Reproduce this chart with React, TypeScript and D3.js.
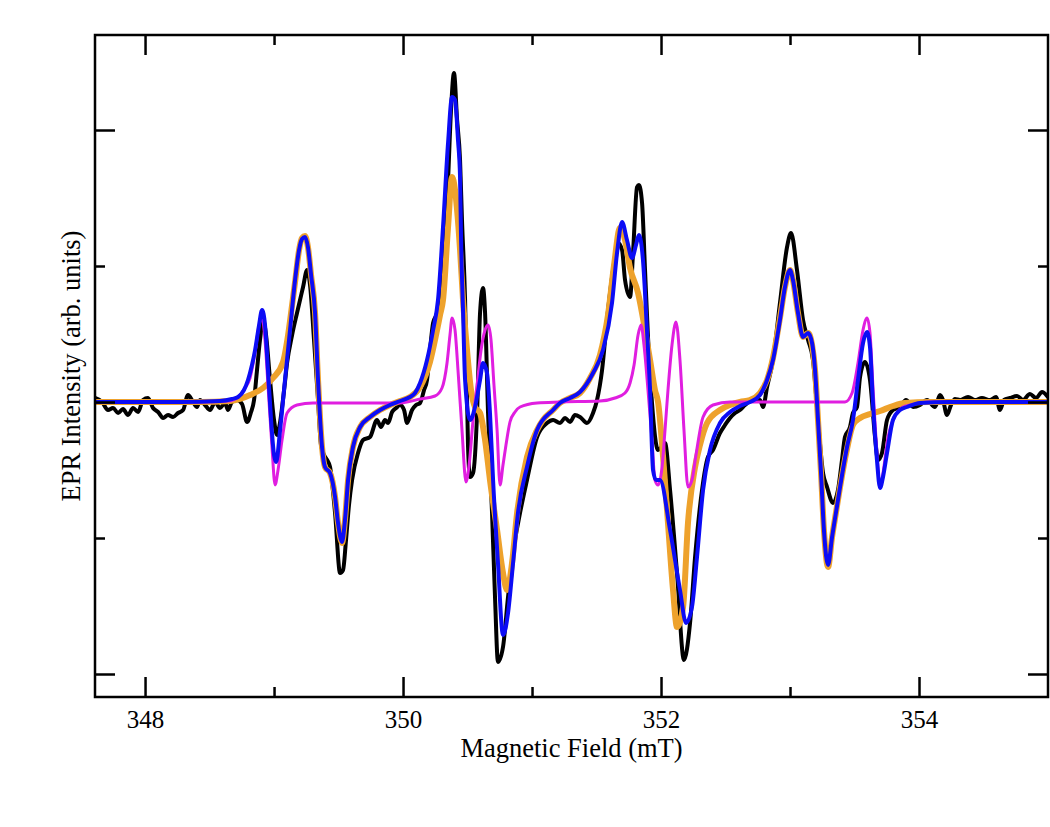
import React, { useEffect, useRef } from 'react';
import * as d3 from 'd3';

// magnetic field (mT) and intensity (arb. units)

// experimental trace (black)
const experimentField = [
  347.612, 347.667, 347.713, 347.752, 347.791, 347.829, 347.868, 347.907, 347.946, 347.984,
  348.023, 348.062, 348.101, 348.140, 348.178, 348.217, 348.256, 348.295, 348.333, 348.372,
  348.403, 348.426, 348.465, 348.504, 348.543, 348.581, 348.620, 348.643, 348.674, 348.713,
  348.752, 348.791, 348.822, 348.845, 348.868, 348.891, 348.915, 348.938, 348.969, 349.000,
  349.023, 349.047, 349.078, 349.101, 349.140, 349.178, 349.225, 349.256, 349.279, 349.310,
  349.341, 349.364, 349.388, 349.411, 349.434, 349.473, 349.512, 349.535, 349.558, 349.581,
  349.605, 349.651, 349.690, 349.744, 349.798, 349.829, 349.860, 349.884, 349.915, 349.946,
  349.977, 350.008, 350.031, 350.070, 350.101, 350.132, 350.163, 350.186, 350.209, 350.233,
  350.264, 350.295, 350.326, 350.349, 350.372, 350.395, 350.419, 350.442, 350.457, 350.481,
  350.504, 350.519, 350.543, 350.574, 350.597, 350.620, 350.636, 350.659, 350.690, 350.713,
  350.736, 350.775, 350.814, 350.853, 350.907, 350.961, 351.039, 351.116, 351.163, 351.217,
  351.256, 351.295, 351.333, 351.372, 351.426, 351.473, 351.504, 351.543, 351.581, 351.628,
  351.667, 351.698, 351.721, 351.760, 351.783, 351.814, 351.829, 351.853, 351.876, 351.899,
  351.930, 351.977, 352.031, 352.070, 352.124, 352.178, 352.225, 352.264, 352.318, 352.364,
  352.403, 352.457, 352.496, 352.535, 352.574, 352.612, 352.651, 352.705, 352.767, 352.791,
  352.822, 352.868, 352.922, 352.977, 353.008, 353.054, 353.101, 353.140, 353.178, 353.217,
  353.256, 353.287, 353.333, 353.372, 353.403, 353.426, 353.465, 353.488, 353.519, 353.543,
  353.581, 353.620, 353.659, 353.682, 353.713, 353.752, 353.798, 353.853, 353.899, 353.954,
  354.008, 354.062, 354.124, 354.163, 354.186, 354.217, 354.248, 354.279, 354.318, 354.380,
  354.434, 354.488, 354.550, 354.597, 354.628, 354.659, 354.705, 354.760, 354.806, 354.860,
  354.907, 354.954, 355.000,
];
const experimentSignal = [
  4, 0, -8, -6, -11, -7, -13, -6, -10, 2,
  4, -6, -10, -16, -13, -15, -11, -8, 7, 0,
  -5, 2, -3, -8, 0, -6, -1, -8, 0, 2,
  -2, -20, -10, 2, 32, 62, 82, 67, 22, -18,
  -33, -20, 12, 39, 67, 89, 115, 132, 117, 62,
  2, -43, -53, -58, -65, -111, -171, -168, -138, -103,
  -78, -51, -38, -35, -18, -25, -18, -21, -10, -6,
  -3, -8, -21, -8, -3, -1, 12, 22, 52, 79,
  89, 112, 162, 222, 292, 329, 282, 242, 182, 102,
  -45, -75, -71, -11, 89, 114, 89, -11, -111, -195,
  -260, -245, -195, -151, -111, -78, -35, -21, -18, -21,
  -16, -20, -13, -15, -21, -11, 2, 32, 82, 132,
  159, 152, 122, 105, 149, 215, 217, 199, 132, 65,
  -1, -48, -41, -88, -171, -258, -221, -155, -88, -55,
  -48, -31, -23, -16, -11, -8, -3, 2, 2, -5,
  15, 42, 99, 155, 169, 132, 82, 62, 42, -18,
  -71, -85, -101, -88, -58, -35, -25, -11, -5, 25,
  40, 22, -35, -58, -51, -18, -8, -5, 2, -5,
  -3, 2, -5, 7, 2, -13, -3, 3, 2, 5,
  2, 4, 2, 5, -8, 2, 4, 6, 2, 8,
  4, 10, 5,
];

// total simulation (blue)
const simulationField = [
  347.612, 348.271, 348.581, 348.674, 348.721, 348.767, 348.798, 348.829, 348.853, 348.884,
  348.907, 348.930, 348.953, 348.977, 349.000, 349.016, 349.047, 349.085, 349.124, 349.163,
  349.194, 349.217, 349.240, 349.264, 349.287, 349.318, 349.341, 349.372, 349.395, 349.434,
  349.473, 349.496, 349.527, 349.550, 349.574, 349.612, 349.667, 349.744, 349.822, 349.899,
  349.977, 350.054, 350.093, 350.132, 350.186, 350.233, 350.271, 350.310, 350.349, 350.380,
  350.403, 350.426, 350.442, 350.450, 350.465, 350.481, 350.519, 350.558, 350.597, 350.620,
  350.651, 350.674, 350.698, 350.736, 350.775, 350.814, 350.853, 350.891, 350.961, 351.039,
  351.163, 351.217, 351.295, 351.372, 351.473, 351.550, 351.620, 351.659, 351.698, 351.736,
  351.775, 351.806, 351.829, 351.860, 351.891, 351.915, 351.938, 351.961, 351.992, 352.070,
  352.147, 352.194, 352.240, 352.279, 352.326, 352.380, 352.457, 352.535, 352.612, 352.690,
  352.767, 352.822, 352.868, 352.922, 352.961, 353.000, 353.023, 353.062, 353.101, 353.140,
  353.171, 353.194, 353.217, 353.240, 353.264, 353.295, 353.326, 353.357, 353.388, 353.442,
  353.488, 353.527, 353.566, 353.597, 353.620, 353.643, 353.674, 353.698, 353.721, 353.752,
  353.798, 353.853, 353.907, 354.008, 354.240, 355.000,
];
const simulationSignal = [
  0, 0, 1, 3, 5, 12, 22, 37, 52, 77,
  92, 77, 32, -18, -53, -60, -28, 22, 72, 122,
  152, 163, 165, 154, 127, 89, 22, -45, -65, -71,
  -95, -121, -140, -118, -78, -45, -25, -15, -8, -3,
  1, 5, 9, 19, 42, 72, 102, 175, 259, 305,
  302, 262, 225, 162, 92, 22, -18, -5, 22, 39,
  29, -11, -78, -161, -233, -211, -161, -111, -65, -28,
  -8, -1, 4, 10, 29, 52, 99, 149, 180, 162,
  144, 157, 167, 142, 72, 12, -68, -78, -78, -128,
  -188, -221, -205, -155, -88, -48, -21, -10, -4, 0,
  7, 22, 42, 82, 115, 132, 122, 89, 65, 69,
  59, 32, -18, -70, -130, -163, -135, -110, -85, -45,
  -18, 22, 59, 70, 55, -1, -58, -86, -75, -51,
  -18, -8, -5, -1, 0, 0,
];

// broad component (orange)
const broadField = [
  347.612, 348.426, 348.659, 348.736, 348.814, 348.915, 348.992, 349.070, 349.109, 349.140,
  349.163, 349.194, 349.217, 349.240, 349.264, 349.287, 349.318, 349.341, 349.372, 349.395,
  349.434, 349.473, 349.496, 349.527, 349.550, 349.574, 349.612, 349.667, 349.744, 349.822,
  349.899, 349.977, 350.054, 350.132, 350.209, 350.256, 350.287, 350.310, 350.349, 350.380,
  350.403, 350.419, 350.442, 350.465, 350.496, 350.527, 350.558, 350.597, 350.636, 350.674,
  350.729, 350.775, 350.806, 350.845, 350.884, 350.961, 351.039, 351.085, 351.163, 351.217,
  351.295, 351.372, 351.450, 351.527, 351.589, 351.636, 351.682, 351.721, 351.760, 351.822,
  351.876, 351.915, 351.953, 351.977, 352.016, 352.054, 352.093, 352.124, 352.171, 352.209,
  352.264, 352.302, 352.357, 352.457, 352.535, 352.612, 352.690, 352.767, 352.822, 352.868,
  352.922, 352.961, 353.000, 353.023, 353.062, 353.101, 353.140, 353.171, 353.194, 353.217,
  353.240, 353.264, 353.295, 353.326, 353.357, 353.388, 353.442, 353.488, 353.543, 353.620,
  353.698, 353.798, 353.891, 354.085, 355.000,
];
const broadSignal = [
  0, 0, 1, 3, 7, 14, 24, 40, 67, 97,
  120, 152, 164, 166, 154, 127, 89, 22, -45, -65,
  -71, -95, -121, -141, -118, -78, -45, -25, -15, -8,
  -3, 1, 5, 15, 40, 67, 87, 102, 175, 225,
  212, 192, 152, 102, 52, 12, -5, -11, -38, -78,
  -128, -171, -188, -161, -111, -55, -28, -18, -8, -1,
  4, 9, 24, 47, 87, 137, 174, 162, 134, 109,
  72, 42, 12, 0, -55, -121, -188, -225, -205, -121,
  -65, -43, -21, -8, -3, 0, 2, 9, 22, 44,
  84, 115, 132, 122, 89, 65, 69, 57, 32, -18,
  -70, -130, -165, -135, -110, -85, -47, -23, -16, -12,
  -9, -4, -1, 0, 0,
];

// narrow component (magenta)
const narrowField = [
  347.612, 348.426, 348.643, 348.721, 348.775, 348.814, 348.853, 348.884, 348.907, 348.930,
  348.953, 348.984, 349.008, 349.031, 349.062, 349.101, 349.178, 349.302, 349.977, 350.132,
  350.248, 350.302, 350.341, 350.364, 350.380, 350.403, 350.426, 350.457, 350.488, 350.512,
  350.543, 350.574, 350.605, 350.636, 350.659, 350.682, 350.705, 350.729, 350.752, 350.775,
  350.798, 350.829, 350.868, 350.907, 351.039, 351.217, 351.527, 351.643, 351.721, 351.760,
  351.791, 351.822, 351.845, 351.868, 351.899, 351.930, 351.953, 351.977, 352.008, 352.031,
  352.054, 352.085, 352.116, 352.147, 352.178, 352.209, 352.240, 352.271, 352.326, 352.403,
  352.535, 353.287, 353.426, 353.481, 353.527, 353.566, 353.597, 353.620, 353.643, 353.674,
  353.698, 353.721, 353.760, 353.798, 353.876, 353.930, 354.085, 355.000,
];
const narrowSignal = [
  0, 0, 1, 5, 14, 24, 50, 77, 85, 62,
  17, -45, -83, -68, -38, -11, -3, -1, -1, 3,
  6, 14, 39, 67, 84, 72, 32, -28, -80, -63,
  -18, 17, 52, 72, 77, 62, 17, -28, -83, -63,
  -43, -20, -10, -5, -1, 0, 1, 4, 9, 19,
  37, 67, 77, 57, 12, -38, -78, -83, -65, -28,
  12, 57, 80, 42, -28, -85, -78, -53, -15, -3,
  0, 0, 0, 9, 39, 72, 84, 69, 15, -51,
  -85, -71, -35, -18, -5, -3, 0, 0,
];

const fieldTicks = [348, 350, 352, 354];
const fieldMinorTicks = [349, 351, 353];
const intensityTicks = [-272, 0, 272];
const intensityMinorTicks = [-136, 136];

const FONT = '"Liberation Serif", "Times New Roman", Times, serif';

const EprChart = () => {
  const svgRef = useRef<SVGSVGElement>(null);

  useEffect(() => {
    const width = 1050;
    const height = 827;
    const margin = { top: 35, right: 2, bottom: 130, left: 95 };
    const x0 = margin.left;
    const x1 = width - margin.right;
    const y0 = height - margin.bottom;
    const y1 = margin.top;

    const svg = d3.select(svgRef.current).attr('width', width).attr('height', height);
    svg.selectAll('*').remove();

    const x = d3.scaleLinear().domain([347.612, 355]).range([x0, x1]);
    const y = d3.scaleLinear().domain([-295, 367]).range([y0, y1]);

    svg
      .append('defs')
      .append('clipPath')
      .attr('id', 'plot-clip')
      .append('rect')
      .attr('x', x0)
      .attr('y', y1)
      .attr('width', x1 - x0)
      .attr('height', y0 - y1);

    // spectra
    const series = [
      { field: experimentField, signal: experimentSignal, color: '#000000', w: 4 },
      { field: broadField, signal: broadSignal, color: '#eea22c', w: 6 },
      { field: narrowField, signal: narrowSignal, color: '#e01ee0', w: 3 },
      { field: simulationField, signal: simulationSignal, color: '#0c0cf5', w: 4 },
    ];

    const line = d3
      .line<[number, number]>()
      .x((d) => x(d[0]))
      .y((d) => y(d[1]))
      .curve(d3.curveMonotoneX);

    const plot = svg.append('g').attr('clip-path', 'url(#plot-clip)');
    series.forEach((s) => {
      plot
        .append('path')
        .datum(d3.zip(s.field, s.signal) as [number, number][])
        .attr('d', line)
        .attr('fill', 'none')
        .attr('stroke', s.color)
        .attr('stroke-width', s.w)
        .attr('stroke-linejoin', 'round')
        .attr('stroke-linecap', 'round');
    });

    const styleAxis = (g: any) => {
      g.select('.domain').remove();
      g.selectAll('line').attr('stroke', '#000').attr('stroke-width', 2.5);
      g.selectAll('text')
        .attr('font-family', FONT)
        .attr('font-size', 25)
        .attr('fill', '#000');
    };
    const blank = () => '';

    // bottom / top
    svg
      .append('g')
      .attr('transform', `translate(0,${y0})`)
      .call(d3.axisBottom(x).tickValues(fieldTicks).tickSize(-20).tickPadding(13).tickFormat(d3.format('d')))
      .call(styleAxis);
    svg
      .append('g')
      .attr('transform', `translate(0,${y0})`)
      .call(d3.axisBottom(x).tickValues(fieldMinorTicks).tickSize(-10).tickFormat(blank))
      .call(styleAxis);
    svg
      .append('g')
      .attr('transform', `translate(0,${y1})`)
      .call(d3.axisTop(x).tickValues(fieldTicks).tickSize(-20).tickFormat(blank))
      .call(styleAxis);
    svg
      .append('g')
      .attr('transform', `translate(0,${y1})`)
      .call(d3.axisTop(x).tickValues(fieldMinorTicks).tickSize(-10).tickFormat(blank))
      .call(styleAxis);

    // left / right
    svg
      .append('g')
      .attr('transform', `translate(${x0},0)`)
      .call(d3.axisLeft(y).tickValues(intensityTicks).tickSize(-20).tickFormat(blank))
      .call(styleAxis);
    svg
      .append('g')
      .attr('transform', `translate(${x0},0)`)
      .call(d3.axisLeft(y).tickValues(intensityMinorTicks).tickSize(-10).tickFormat(blank))
      .call(styleAxis);
    svg
      .append('g')
      .attr('transform', `translate(${x1},0)`)
      .call(d3.axisRight(y).tickValues(intensityTicks).tickSize(-20).tickFormat(blank))
      .call(styleAxis);
    svg
      .append('g')
      .attr('transform', `translate(${x1},0)`)
      .call(d3.axisRight(y).tickValues(intensityMinorTicks).tickSize(-10).tickFormat(blank))
      .call(styleAxis);

    // frame
    svg
      .append('rect')
      .attr('x', x0)
      .attr('y', y1)
      .attr('width', x1 - x0)
      .attr('height', y0 - y1)
      .attr('fill', 'none')
      .attr('stroke', '#000')
      .attr('stroke-width', 2.5);

    // axis titles
    svg
      .append('text')
      .attr('x', (x0 + x1) / 2)
      .attr('y', 757)
      .attr('text-anchor', 'middle')
      .attr('font-family', FONT)
      .attr('font-size', 26.5)
      .attr('fill', '#000')
      .text('Magnetic Field (mT)');

    svg
      .append('text')
      .attr('transform', `translate(80,${(y0 + y1) / 2}) rotate(-90)`)
      .attr('text-anchor', 'middle')
      .attr('font-family', FONT)
      .attr('font-size', 26.5)
      .attr('fill', '#000')
      .text('EPR Intensity (arb. units)');
  }, []);

  return (
    <svg
      ref={svgRef}
      style={{ position: 'absolute', left: 0, top: 0, display: 'block', background: '#fff' }}
    ></svg>
  );
};

export default function App() {
  return <EprChart />;
}
